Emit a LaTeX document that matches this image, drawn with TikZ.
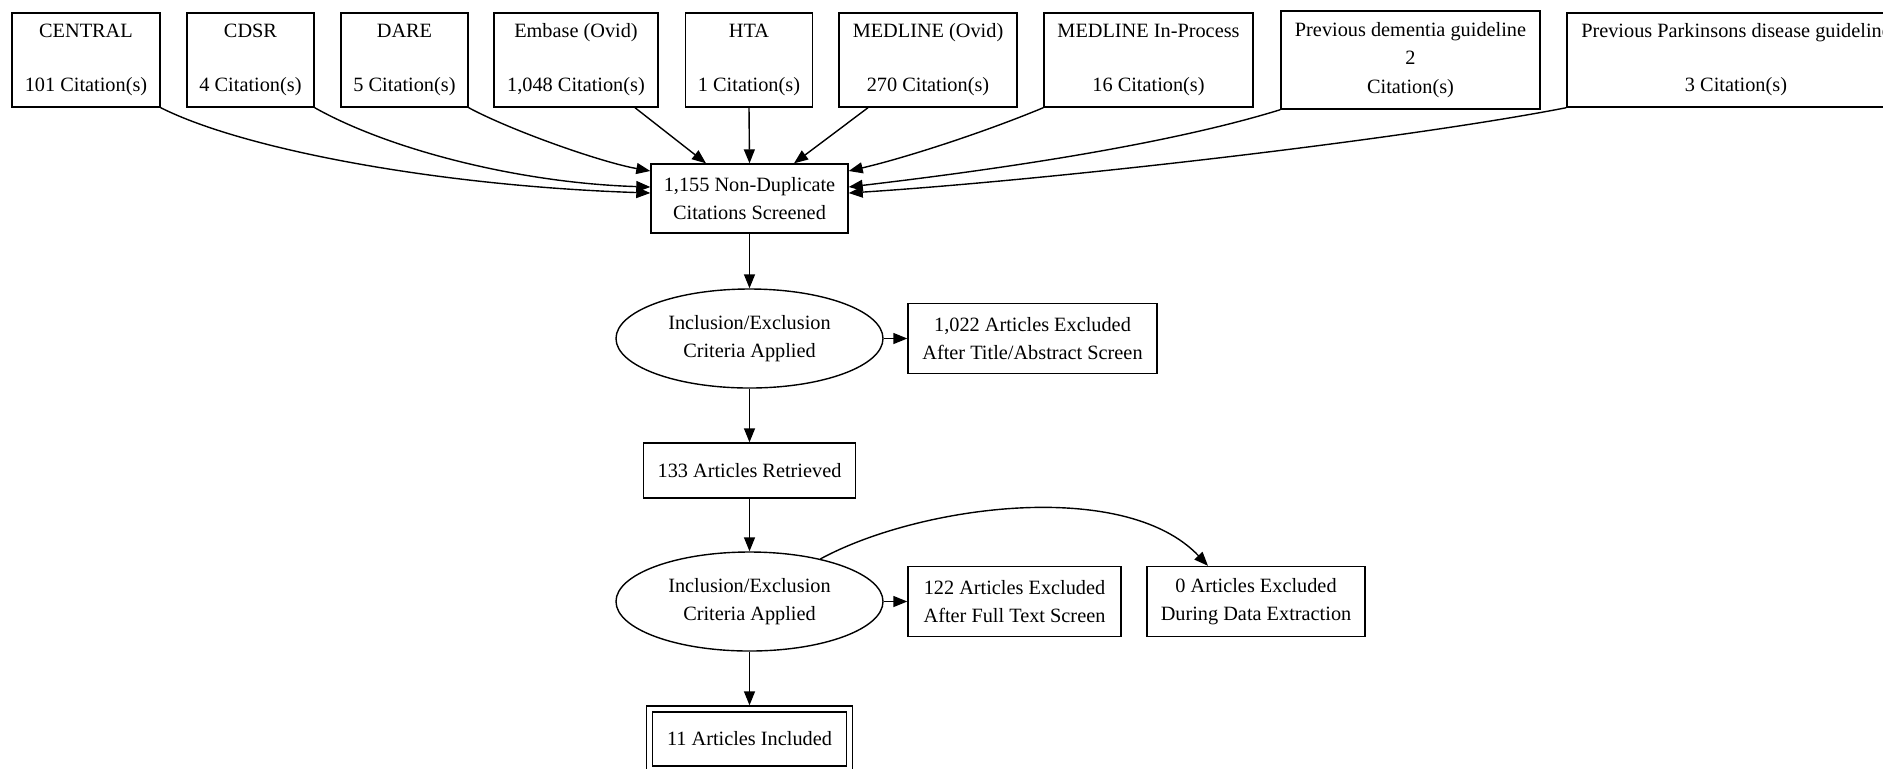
\documentclass[tikz,border=0pt]{standalone}
\usepackage{fontspec}
\setmainfont{Liberation Serif}
\usetikzlibrary{arrows.meta,shapes.geometric,calc}
\begin{document}
\begin{tikzpicture}[x=0.5pt,y=-0.5pt,
  every node/.style={font=\fontsize{10.15}{14}\selectfont, align=center, inner sep=0pt},
  boxnode/.style={draw, rectangle, line width=0.7pt},
  topbox/.style={boxnode, minimum height=47pt},
  ellnode/.style={draw, ellipse, line width=0.7pt, minimum width=133.5pt, minimum height=49.5pt},
  arr/.style={line width=0.7pt, -{Triangle[length=7pt,width=5.5pt]}},
]
\useasboundingbox (0,0) rectangle (1883,768);
\clip (0,0) rectangle (1883,768);

% source boxes
\node[topbox, minimum width=74pt]   (central)  at (86,60)    {CENTRAL\\[13pt]101 Citation(s)};
\node[topbox, minimum width=63.5pt] (cdsr)     at (250.5,60) {CDSR\\[13pt]4 Citation(s)};
\node[topbox, minimum width=63.5pt] (dare)     at (404.5,60) {DARE\\[13pt]5 Citation(s)};
\node[topbox, minimum width=82pt]   (embase)   at (576,60)   {Embase (Ovid)\\[13pt]1,048 Citation(s)};
\node[topbox, minimum width=63.5pt] (hta)      at (749,60)   {HTA\\[13pt]1 Citation(s)};
\node[topbox, minimum width=89pt]   (medovid)  at (928,60)   {MEDLINE (Ovid)\\[13pt]270 Citation(s)};
\node[topbox, minimum width=104.5pt] (medinp)  at (1148.5,60) {MEDLINE In-Process\\[13pt]16 Citation(s)};
\node[boxnode, minimum width=129.5pt, minimum height=49pt,
      font=\fontsize{10.15}{14.25}\selectfont] (dementia) at (1410.5,60)
      {Previous dementia guideline\\2\\Citation(s)};
\node[topbox, minimum width=169pt]  (parkinsons) at (1736,60)
      {Previous Parkinsons disease guideline\\[13pt]3 Citation(s)};

% flow nodes
\node[boxnode, minimum width=98.5pt, minimum height=34.5pt] (nondup) at (749.5,198.5)
      {1,155 Non-Duplicate\\Citations Screened};
\node[ellnode] (incl1) at (749.5,338.5) {Inclusion/Exclusion\\Criteria Applied};
\node[boxnode, minimum width=124.5pt, minimum height=35pt] (excl1) at (1032.5,338.5)
      {1,022 Articles Excluded\\After Title/Abstract Screen};
\node[boxnode, minimum width=106pt, minimum height=27.5pt] (retr) at (749.5,470.5)
      {133 Articles Retrieved};
\node[ellnode] (incl2) at (749.5,601.5) {Inclusion/Exclusion\\Criteria Applied};
\node[boxnode, minimum width=106.5pt, minimum height=35pt] (excl2) at (1014.5,601.5)
      {122 Articles Excluded\\After Full Text Screen};
\node[boxnode, minimum width=109pt, minimum height=35pt] (excl3) at (1256,601.5)
      {0 Articles Excluded\\During Data Extraction};
\node[boxnode, double, double distance=2.3pt, minimum width=100pt, minimum height=30pt] (incl) at (749.5,739)
      {11 Articles Included};

% source edges
\draw[arr] (central.south east) .. controls (245,150) and (440,186) .. ($(nondup.west)+(0,-5.5)$);
\draw[arr] (cdsr.south east) .. controls (390,150) and (520,183) .. ($(nondup.west)+(0,-11.5)$);
\draw[arr] (dare.south east) .. controls (510,130) and (600,162) .. ($(nondup.west)+(0,-27.5)$);
\draw[arr] ($(embase.south)+(59,0)$) -- ($(nondup.north)+(-43.5,0)$);
\draw[arr] (hta.south) -- (nondup.north);
\draw[arr] ($(medovid.south)+(-60,0)$) -- ($(nondup.north)+(44.5,0)$);
\draw[arr] (medinp.south west) .. controls (985,132) and (905,158) .. ($(nondup.east)+(0,-27.5)$);
\draw[arr] (dementia.south west) .. controls (1150,150) and (950,175) .. ($(nondup.east)+(0,-11.5)$);
\draw[arr] (parkinsons.south west) .. controls (1400,140) and (1050,180) .. ($(nondup.east)+(0,-5.5)$);

% flow edges
\draw[arr] (nondup.south) -- (incl1.north);
\draw[arr] (incl1.east) -- (excl1.west);
\draw[arr] (incl1.south) -- (retr.north);
\draw[arr] (retr.south) -- (incl2.north);
\draw[arr] (incl2.east) -- (excl2.west);
\draw[arr] (incl2.31.5) .. controls (920,505) and (1125,478) .. ($(excl3.north)+(-48,0)$);
\draw[arr] (incl2.south) -- ($(incl.north)+(0,-3)$);
\end{tikzpicture}
\end{document}
